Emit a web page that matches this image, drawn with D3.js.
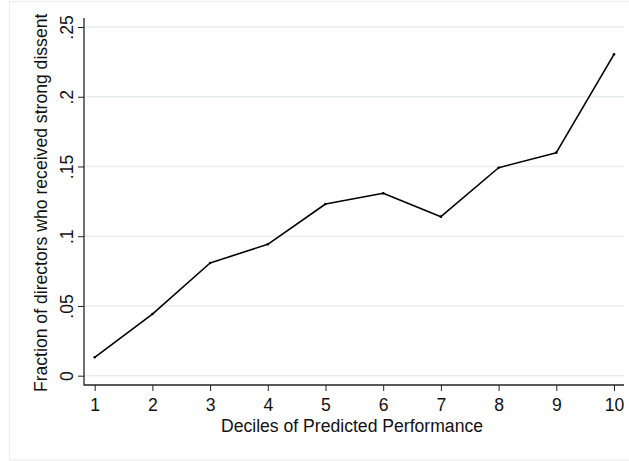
<!DOCTYPE html>
<html>
<head>
<meta charset="utf-8">
<script src="https://cdn.jsdelivr.net/npm/d3@7"></script>
<style>
html,body{margin:0;padding:0;background:#fff;}
svg{display:block;}
text{font-family:"Liberation Sans",Arial,sans-serif;fill:#111;}
</style>
</head>
<body>
<svg id="chart" width="629" height="461"></svg>
<script>
const deciles = [1,2,3,4,5,6,7,8,9,10];
const fraction = [0.0132,0.0442,0.0808,0.0942,0.1231,0.1308,0.114,0.1491,0.1599,0.2304];
const yTicks = [0,0.05,0.1,0.15,0.2,0.25];
const yTickLabels = ["0",".05",".1",".15",".2",".25"];
const xTitle = "Deciles of Predicted Performance";
const yTitle = "Fraction of directors who received strong dissent";

(function(){
const svg = d3.select("#chart");
const gridCol = "#e6eef1";
const fs = 17.6;

// outer frame
svg.append("rect").attr("x",9.5).attr("y",1.5).attr("width",640).attr("height",458.5)
  .attr("fill","#fff").attr("stroke","#e6eef1").attr("stroke-width",1.2);

const x = d3.scaleLinear().domain([1,10]).range([94.7,614]);
const y = d3.scaleLinear().domain([0,0.25]).range([375.7,27]);
const pLeft = 84, pRight = 624, pTop = 18, pBottom = 385;

// gridlines
svg.append("g").selectAll("line").data(yTicks).join("line")
  .attr("x1",pLeft).attr("x2",pRight)
  .attr("y1",d=>y(d)).attr("y2",d=>y(d))
  .attr("stroke",gridCol).attr("stroke-width",1.5);

// y axis
const yAxis = d3.axisLeft(y).tickValues(yTicks).tickSize(6).tickPadding(0)
  .tickFormat((d,i)=>yTickLabels[i]);
const gy = svg.append("g").attr("transform",`translate(${pLeft},0)`).call(yAxis);
gy.select(".domain").remove();
gy.selectAll(".tick line").attr("stroke","#222").attr("stroke-width",1);
gy.selectAll(".tick text").attr("font-size",fs).attr("fill","#111")
  .attr("text-anchor","middle").attr("dy",null).attr("x",null)
  .attr("transform","translate(-11.3,0) rotate(-90)");
svg.append("line").attr("x1",pLeft).attr("x2",pLeft).attr("y1",pTop).attr("y2",pBottom+0.5)
  .attr("stroke","#222").attr("stroke-width",1.3);

// x axis
const xAxis = d3.axisBottom(x).tickValues(deciles).tickSize(6).tickPadding(0)
  .tickFormat(d3.format("d"));
const gx = svg.append("g").attr("transform",`translate(0,${pBottom})`).call(xAxis);
gx.select(".domain").remove();
gx.selectAll(".tick line").attr("stroke","#222").attr("stroke-width",1);
gx.selectAll(".tick text").attr("font-size",fs).attr("fill","#111")
  .attr("dy",null).attr("y",25.7);
svg.append("line").attr("x1",pLeft).attr("x2",pRight).attr("y1",pBottom).attr("y2",pBottom)
  .attr("stroke","#222").attr("stroke-width",1.3);

// titles
svg.append("text").attr("x",352).attr("y",432.3)
  .attr("text-anchor","middle").attr("font-size",fs).text(xTitle);
svg.append("text").attr("transform",`translate(47.3,${(14+391.7)/2}) rotate(-90)`)
  .attr("text-anchor","middle").attr("font-size",fs).text(yTitle);

// line
const pts = deciles.map((d,i)=>[d,fraction[i]]);
svg.append("path").datum(pts)
  .attr("fill","none").attr("stroke","#000").attr("stroke-width",1.6)
  .attr("stroke-linejoin","round")
  .attr("d",d3.line().x(d=>x(d[0])).y(d=>y(d[1])));
svg.append("g").selectAll("circle").data(pts).join("circle")
  .attr("cx",d=>x(d[0])).attr("cy",d=>y(d[1])).attr("r",1.3).attr("fill","#000");
})();
</script>
</body>
</html>
